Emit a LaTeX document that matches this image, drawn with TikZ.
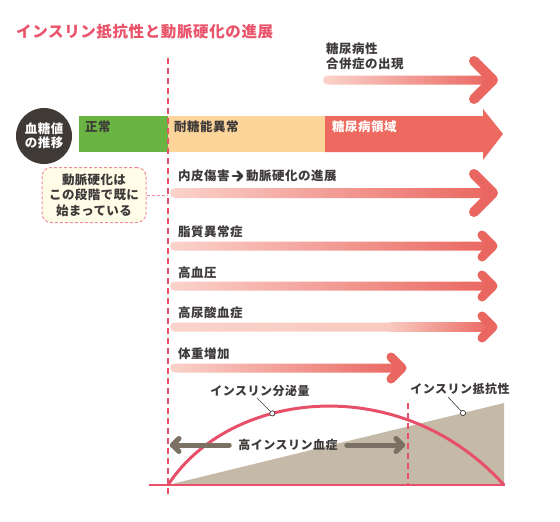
\documentclass[tikz,border=0pt]{standalone}
\usepackage{fontspec}
\setmainfont{Noto Sans CJK JP}
\definecolor{titlepink}{HTML}{E9546B}
\definecolor{vpink}{HTML}{E8506A}
\definecolor{txtdark}{HTML}{3E3A39}
\definecolor{barg}{HTML}{6AB443}
\definecolor{barp}{HTML}{FDD59B}
\definecolor{barr}{HTML}{EC6A5F}
\definecolor{gl}{HTML}{FAD3CB}
\definecolor{gl2}{HTML}{F8C9BF}
\definecolor{gr}{HTML}{EA6660}
\definecolor{beige}{HTML}{C5B9A7}
\definecolor{garrow}{HTML}{7A7164}
\definecolor{cfill}{HTML}{FFFCE8}
\definecolor{cborder}{HTML}{F08C9B}
\definecolor{cdark}{HTML}{3F3A36}
\begin{document}
\begin{tikzpicture}[x=1pt,y=-1pt,
  lbl/.style={font=\fontsize{12.5}{15}\selectfont\bfseries\addfontfeatures{LetterSpace=4}, text=txtdark, inner sep=0pt, anchor=west},
  clbl/.style={font=\fontsize{12}{15}\selectfont\bfseries\addfontfeatures{LetterSpace=4}, text=txtdark, inner sep=0pt},
  headst/.style={draw=gr, line cap=round, line join=round},
  vdash/.style={draw=vpink, line width=1.8pt, dash pattern=on 6pt off 4pt},
  garr/.style={draw=garrow, line width=5pt, line cap=round, line join=round},
  tarr/.style={draw=txtdark, line width=2.6pt, line cap=round, line join=round}]
\useasboundingbox (0,0) rectangle (560,522);
% title
\node[anchor=west, text=titlepink, inner sep=0pt, font=\fontsize{15.5}{18}\selectfont\bfseries\addfontfeatures{LetterSpace=4}] (title) at (16,32) {インスリン抵抗性と動脈硬化の進展};
% top arrow
\node[lbl, align=left] (comp) at (326,56.5) {糖尿病性\\合併症の出現};
\shade[left color=gl, right color=gr, rounded corners=4.5pt] (323,75.5) rectangle (493,84.5);
\draw[headst, line width=10pt] (474,61) -- (493,80) -- (474,99);
% bars
\fill[barg] (79,116) rectangle (168,152);
\fill[barp] (168,116) rectangle (325,152);
\fill[barr] (325,116) -- (483,116) -- (483,109) -- (503,134) -- (483,160) -- (483,152) -- (325,152) -- cycle;
\node[lbl] (normal) at (85,127) {正常};
\node[lbl] (igt) at (174,127) {耐糖能異常};
\node[lbl, text=white] (dm) at (332,127) {糖尿病領域};
\node[circle, fill=cdark, minimum size=56pt, inner sep=0pt, text=white, align=center, font=\fontsize{12.5}{14}\selectfont\bfseries\addfontfeatures{LetterSpace=4}] (bs) at (44,136) {血糖値\\の推移};
% vertical dashed line
\coordinate (vtop) at (168,58);
\coordinate (vbot) at (168,498);
\draw[vdash] (vtop) -- (vbot);
% callout
\node[draw=cborder, fill=cfill, line width=1pt, dash pattern=on 3pt off 2pt, rounded corners=9pt, minimum width=104pt, minimum height=55pt, align=center, inner sep=0pt, font=\fontsize{12.5}{15.5}\selectfont\bfseries\addfontfeatures{LetterSpace=3}, text=txtdark] (note) at (94,195) {動脈硬化は\\この段階で既に\\始まっている};
\draw[draw=cborder, line width=1pt, dash pattern=on 3pt off 2pt] (note.east) -- (note.east -| vtop);
% row 1
\node[lbl] (r1a) at (178,176) {内皮傷害};
\node[lbl] (r1b) at (246,176) {動脈硬化の進展};
\coordinate (ta) at ([xshift=3pt]r1a.east);
\coordinate (tb) at ([xshift=-4pt]r1b.west);
\draw[tarr] (ta) -- (tb);
\draw[tarr] ([shift={(-4.5pt,-4.5pt)}]tb) -- (tb) -- ([shift={(-4.5pt,4.5pt)}]tb);
\shade[left color=gl, right color=gr, rounded corners=5pt] (170,188) rectangle (493,198);
\draw[headst, line width=10pt] (474,174) -- (493,193) -- (474,212);
% row 2
\node[lbl] (r2) at (178,232) {脂質異常症};
\shade[left color=gl, right color=gr, rounded corners=4.5pt] (170,241.5) rectangle (493,250.5);
\draw[headst, line width=9pt] (482,235) -- (493,246) -- (482,257);
% row 3
\node[lbl] (r3) at (178,273) {高血圧};
\shade[left color=gl, right color=gr, rounded corners=4.5pt] (170,281.5) rectangle (493,290.5);
\draw[headst, line width=9pt] (482,275) -- (493,286) -- (482,297);
% row 4
\node[lbl] (r4) at (178,313) {高尿酸血症};
\shade[left color=gl, right color=gl2, rounded corners=4.5pt] (170,322.5) rectangle (396,331.5);
\shade[left color=gl2, right color=gr] (390,322.5) rectangle (493,331.5);
\draw[headst, line width=9pt] (482,316) -- (493,327) -- (482,338);
% row 5
\node[lbl] (r5) at (178,354) {体重増加};
\shade[left color=gl, right color=gr, rounded corners=4.5pt] (170,363.5) rectangle (402,372.5);
\draw[headst, line width=9pt] (391,357) -- (402,368) -- (391,379);
% chart
\fill[beige] (168,485) -- (504,403) -- (504,485) -- cycle;
\coordinate (m2) at (463,413);
\draw[vpink, line width=3pt] (168,485) .. controls (230,390) and (400,370) .. (504,485) coordinate[pos=0.37] (m1);
\draw[vpink, line width=1.5pt] (149,485) -- (505,485);
\coordinate (v2top) at (408,403);
\coordinate (v2bot) at (408,485);
\draw[vdash] (v2top) -- (v2bot);
% labels
\node[clbl] (sec) at (260,391) {インスリン分泌量};
\node[clbl] (res) at (460,389) {インスリン抵抗性};
\coordinate (s1) at (257,398);
\coordinate (s2) at (448,397);
\draw[txtdark, line width=0.6pt] (s1) -- (m1);
\draw[txtdark, line width=0.6pt] (s2) -- (m2);
\draw[txtdark, line width=0.7pt, fill=white] (m1) circle (2.6pt);
\draw[txtdark, line width=0.7pt, fill=white] (m2) circle (2.6pt);
% hyperinsulinemia
\node[clbl] (hi) at (288,445) {高インスリン血症};
\coordinate (la) at (172.5,445);
\coordinate (ra) at (402.5,445);
\draw[garr] ([xshift=-9pt]hi.west) -- (la);
\draw[garr] (179,438.5) -- (la) -- (179,451.5);
\draw[garr] ([xshift=9pt]hi.east) -- (ra);
\draw[garr] (396,438.5) -- (ra) -- (396,451.5);
\end{tikzpicture}
\end{document}
